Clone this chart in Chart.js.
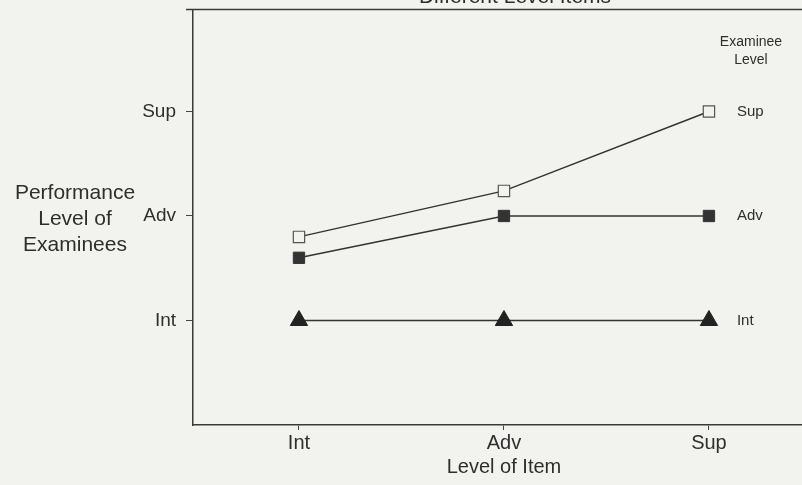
<!DOCTYPE html>
<html lang="en">
<head>
    <meta charset="UTF-8">
    <title>Performance Level of Examinees</title>
    <style>
        body {
            margin: 0;
            padding: 0;
            background-color: #f2f2ee;
        }
        .wrap {
            width: 802px;
            height: 485px;
        }
    </style>
    <script src="https://cdn.jsdelivr.net/npm/chart.js"></script>
</head>
<body>
    <div class="wrap">
        <canvas id="levelChart" width="802" height="485"></canvas>
    </div>
    <script>
        // data
        const itemLevels = ['Int', 'Adv', 'Sup'];          // x: level of item
        const examineeLevels = ['Int', 'Adv', 'Sup'];      // y tick labels
        const seriesNames = ['Sup', 'Adv', 'Int'];         // examinee level
        const supValues = [1.8, 2.24, 3.0];
        const advValues = [1.6, 2.0, 2.0];
        const intValues = [1.0, 1.0, 1.0];

        const ink = '#2e2e2e';
        const bg = '#f2f2ee';
        const font = '"Liberation Sans", Arial, sans-serif';

        const toPoints = vals => vals.map((v, i) => ({ x: i + 1, y: v }));

        // titles, top rule and the labels at line ends
        const textPlugin = {
            id: 'extraText',
            afterDraw(chart) {
                const { ctx, chartArea } = chart;
                ctx.save();
                ctx.fillStyle = ink;
                ctx.strokeStyle = '#3a3a3a';

                // top frame line
                ctx.lineWidth = 1.5;
                ctx.beginPath();
                ctx.moveTo(chartArea.left - 7, chartArea.top - 0.5);
                ctx.lineTo(chart.width, chartArea.top - 0.5);
                ctx.stroke();

                // cut-off title
                ctx.font = '21px ' + font;
                ctx.textAlign = 'center';
                ctx.textBaseline = 'alphabetic';
                ctx.fillText('Different Level Items', 515, 3);

                // y axis title
                ctx.font = '21px ' + font;
                ctx.textBaseline = 'middle';
                ctx.fillText('Performance', 75, 193);
                ctx.fillText('Level of', 75, 219);
                ctx.fillText('Examinees', 75, 245);

                // x axis title
                ctx.font = '20px ' + font;
                ctx.fillText('Level of Item', 504, 467);

                // legend heading
                ctx.font = '14px ' + font;
                ctx.fillText('Examinee', 751, 42);
                ctx.fillText('Level', 751, 60);

                // labels at line ends
                ctx.textAlign = 'left';
                ctx.font = '15px ' + font;
                chart.data.datasets.forEach((ds, i) => {
                    const meta = chart.getDatasetMeta(i);
                    const last = meta.data[meta.data.length - 1];
                    ctx.fillText(seriesNames[i], last.x + 28, last.y);
                });
                ctx.restore();
            }
        };

        new Chart(document.getElementById('levelChart').getContext('2d'), {
            type: 'line',
            data: {
                datasets: [
                    {
                        label: seriesNames[0],
                        data: toPoints(supValues),
                        borderColor: '#333',
                        borderWidth: 1.5,
                        pointStyle: 'rect',
                        pointRadius: 8,
                        pointBackgroundColor: bg,
                        pointBorderColor: '#555',
                        pointBorderWidth: 1.2
                    },
                    {
                        label: seriesNames[1],
                        data: toPoints(advValues),
                        borderColor: '#333',
                        borderWidth: 1.5,
                        pointStyle: 'rect',
                        pointRadius: 8,
                        pointBackgroundColor: '#333',
                        pointBorderColor: '#333',
                        pointBorderWidth: 1
                    },
                    {
                        label: seriesNames[2],
                        data: toPoints(intValues),
                        borderColor: '#333',
                        borderWidth: 1.5,
                        pointStyle: 'triangle',
                        pointRadius: 10,
                        pointBackgroundColor: '#222',
                        pointBorderColor: '#222',
                        pointBorderWidth: 1
                    }
                ]
            },
            options: {
                responsive: false,
                animation: false,
                layout: { autoPadding: false, padding: { top: 10, right: 0, left: 0, bottom: 0 } },
                plugins: { legend: { display: false }, tooltip: { enabled: false } },
                scales: {
                    x: {
                        type: 'linear',
                        min: 0.483,
                        max: 3.454,
                        afterFit: s => {
                            s.height = 60;
                            s.paddingLeft = 0;
                            s.paddingRight = 0;
                        },
                        afterBuildTicks: s => { s.ticks = itemLevels.map((_, i) => ({ value: i + 1 })); },
                        ticks: {
                            callback: v => itemLevels[v - 1] || '',
                            color: ink,
                            font: { family: font, size: 20 },
                            padding: 1,
                            maxRotation: 0
                        },
                        grid: { drawOnChartArea: false, drawTicks: true, tickLength: 5, color: '#444' },
                        border: { display: true, color: '#3a3a3a', width: 1.5 }
                    },
                    y: {
                        type: 'linear',
                        min: 0,
                        max: 3.971,
                        afterFit: s => {
                            s.width = 193;
                            s.paddingTop = 0;
                            s.paddingBottom = 0;
                        },
                        afterBuildTicks: s => { s.ticks = examineeLevels.map((_, i) => ({ value: i + 1 })); },
                        ticks: {
                            callback: v => examineeLevels[v - 1] || '',
                            color: ink,
                            font: { family: font, size: 19 },
                            padding: 10
                        },
                        grid: { drawOnChartArea: false, drawTicks: true, tickLength: 7, color: '#444' },
                        border: { display: true, color: '#3a3a3a', width: 1.5 }
                    }
                }
            },
            plugins: [textPlugin]
        });
    </script>
</body>
</html>
